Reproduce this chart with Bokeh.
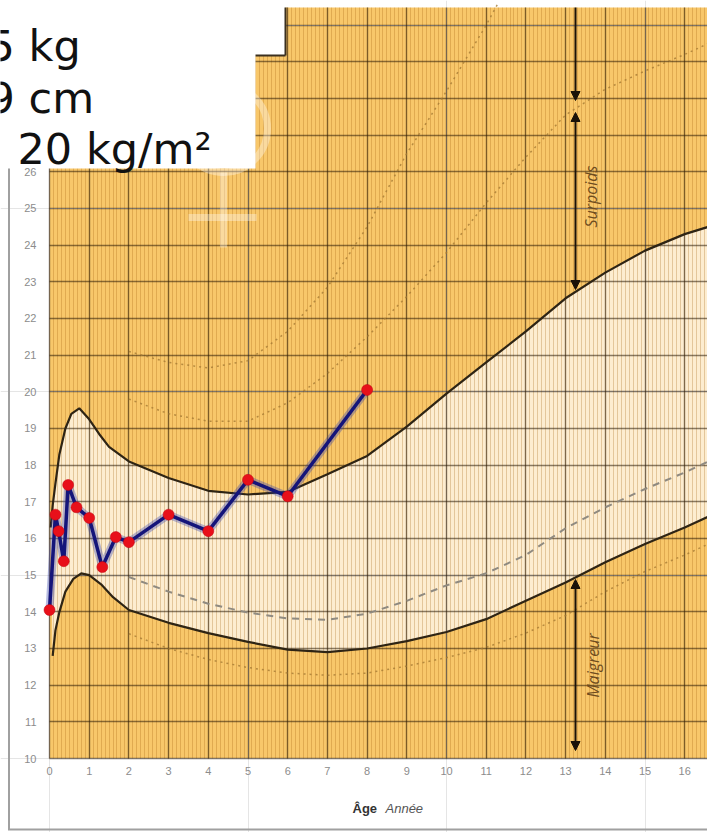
import numpy as np
from bokeh.plotting import figure
from bokeh.models import Range1d, LinearAxis, FixedTicker, SingleIntervalTicker, Grid, Arrow, NormalHead
from bokeh.core.properties import value
from bokeh.embed import file_html
from bokeh.resources import INLINE

# ---------------- data ----------------
AGE = [0, 0.15, 0.23, 0.36, 0.47, 0.68, 1.0, 1.33, 1.67, 2.0, 3.0, 4.0, 5.0, 6.0, 8.0]
BMI = [14.05, 16.65, 16.2, 15.38, 17.46, 16.85, 16.56, 15.22, 16.04, 15.9, 16.65, 16.2, 17.6, 17.15, 20.05]

UPPER_X = [0.03, 0.08, 0.15, 0.25, 0.4, 0.55, 0.75, 1.0, 1.25, 1.5, 2, 3, 4, 5, 6, 7, 8, 9, 10, 11, 12, 13, 14, 15, 16, 16.6]
UPPER_Y = [16.3, 16.9, 17.5, 18.3, 19.0, 19.4, 19.55, 19.25, 18.85, 18.5, 18.1, 17.65, 17.3, 17.2, 17.27, 17.75, 18.25, 19.05, 19.95, 20.8, 21.65, 22.55, 23.25, 23.85, 24.3, 24.5]

LOWER_X = [0.08, 0.15, 0.25, 0.4, 0.6, 0.8, 1.0, 1.3, 1.6, 2, 3, 4, 5, 6, 7, 8, 9, 10, 11, 12, 13, 14, 15, 16, 16.6]
LOWER_Y = [12.8, 13.5, 14.0, 14.55, 14.9, 15.05, 15.0, 14.75, 14.4, 14.05, 13.7, 13.42, 13.18, 12.97, 12.9, 13.0, 13.2, 13.45, 13.8, 14.3, 14.8, 15.35, 15.85, 16.3, 16.6]

MID_X = [2, 3, 4, 5, 6, 7, 8, 9, 10, 11, 12, 13, 14, 15, 16, 16.6]
MID_Y = [14.95, 14.55, 14.22, 13.98, 13.82, 13.78, 13.95, 14.3, 14.72, 15.05, 15.55, 16.28, 16.85, 17.35, 17.8, 18.1]

LOWDOT_X = [2, 3, 4, 5, 6, 7, 8, 9, 10, 11, 12, 13, 14, 15, 16, 16.6]
LOWDOT_Y = [13.4, 13.0, 12.7, 12.48, 12.33, 12.27, 12.33, 12.52, 12.75, 13.03, 13.42, 13.9, 14.55, 15.1, 15.55, 15.85]

DOT_A_X = [2, 3, 4, 5, 6, 7, 8, 9, 10, 11, 12, 13, 14, 15, 16, 16.6]
DOT_A_Y = [19.8, 19.4, 19.2, 19.2, 19.7, 20.5, 21.5, 22.6, 23.8, 25.15, 26.4, 27.55, 28.25, 28.75, 29.2, 29.5]

DOT_B_X = [2, 3, 4, 5, 6, 7, 8, 9, 10, 11, 11.3]
DOT_B_Y = [21.1, 20.8, 20.65, 20.85, 21.65, 22.85, 24.5, 26.5, 28.2, 30.0, 30.6]

X_TICKS = list(range(0, 17))
Y_TICKS = list(range(10, 27))

INFO_LINES = ["5 kg", "9 cm", "20 kg/m\u00b2"]

# ---------------- geometry helpers (picture pixels -> data) ----------------
def fx(px):
    return (px - 49) / 39.7

def fy(py):
    return 10 + (758 - py) / 36.67

W, H = 707, 832
X_START, X_END = fx(0), fx(W)
Y_START, Y_END = fy(H), fy(0)
CHART_TOP = fy(7)

ORANGE = "#F8C76A"
CREAM = "#FDEDD0"
DARK = "#2e2414"

p = figure(width=W, height=H,
           x_range=Range1d(X_START, X_END), y_range=Range1d(Y_START, Y_END),
           output_backend="svg", toolbar_location=None,
           x_axis_location=None, y_axis_location=None,
           outline_line_color=None, background_fill_color="white",
           border_fill_color="white")
p.min_border_left = 0
p.min_border_right = 0
p.min_border_top = 0
p.min_border_bottom = 0

# background regions
p.quad(left=0, right=X_END + 1, bottom=10, top=CHART_TOP,
       fill_color=ORANGE, line_color=None, level="image")
p.patch(UPPER_X + LOWER_X[::-1], UPPER_Y + LOWER_Y[::-1],
        fill_color=CREAM, line_color=None, level="image")

# grids
MAJ_COLOR, MAJ_ALPHA, MAJ_W = "#2a1a05", 0.55, 1.4
MIN_COLOR, MIN_ALPHA, MIN_W = "#a06010", 0.28, 1.0
xg = Grid(dimension=0, ticker=SingleIntervalTicker(interval=1, num_minor_ticks=10),
          bounds=(0, X_END),
          grid_line_color=MAJ_COLOR, grid_line_alpha=MAJ_ALPHA, grid_line_width=MAJ_W,
          minor_grid_line_color=MIN_COLOR, minor_grid_line_alpha=MIN_ALPHA,
          minor_grid_line_width=MIN_W)
yg = Grid(dimension=1, ticker=SingleIntervalTicker(interval=1),
          bounds=(10, CHART_TOP),
          grid_line_color=MAJ_COLOR, grid_line_alpha=MAJ_ALPHA, grid_line_width=MAJ_W)
try:
    xg.cross_bounds = (10, CHART_TOP)
    yg.cross_bounds = (0, X_END + 1)
    p.add_layout(xg)
    p.add_layout(yg)
except AttributeError:
    maj = np.arange(0, 17)
    mino = np.array([v for v in np.arange(0, X_END, 0.1) if abs(v - round(v)) > 1e-6])
    p.segment(x0=mino, y0=10, x1=mino, y1=CHART_TOP, line_color=MIN_COLOR,
              line_alpha=MIN_ALPHA, line_width=MIN_W, level="underlay")
    p.segment(x0=maj, y0=10, x1=maj, y1=CHART_TOP, line_color=MAJ_COLOR,
              line_alpha=MAJ_ALPHA, line_width=MAJ_W, level="underlay")
    hy = np.arange(10, 31)
    p.segment(x0=0, y0=hy, x1=X_END + 1, y1=hy, line_color=MAJ_COLOR,
              line_alpha=MAJ_ALPHA, line_width=MAJ_W, level="underlay")

# reference curves
p.line(DOT_A_X, DOT_A_Y, line_color="#a57a35", line_width=1.5, line_dash="2 4", line_alpha=0.8)
p.line(DOT_B_X, DOT_B_Y, line_color="#a57a35", line_width=1.5, line_dash="2 4", line_alpha=0.8)
p.line(LOWDOT_X, LOWDOT_Y, line_color="#a57a35", line_width=1.5, line_dash="2 4", line_alpha=0.8)
p.line(MID_X, MID_Y, line_color="#8f8a80", line_width=2, line_dash="7 6")
p.line(UPPER_X, UPPER_Y, line_color=DARK, line_width=2.2)
p.line(LOWER_X, LOWER_Y, line_color=DARK, line_width=2.2)

# faint female symbol
FEM_X, FEM_Y = fx(223), fy(128)
p.scatter([FEM_X], [FEM_Y], marker="circle", size=88, fill_alpha=0,
          line_color="white", line_alpha=0.35, line_width=7)
p.segment(x0=[FEM_X, fx(188)], y0=[fy(172), fy(217)], x1=[FEM_X, fx(256)], y1=[fy(247), fy(217)],
          line_color="white", line_alpha=0.35, line_width=7)

# header box of the original sheet
p.quad(left=X_START - 1, right=fx(285), bottom=fy(55), top=Y_END + 1,
       fill_color="white", line_color=None)
p.segment(x0=[fx(285), fx(250)], y0=[fy(55), fy(55)], x1=[fx(285), fx(285)], y1=[CHART_TOP, fy(55)],
          line_color="#3b3020", line_width=2)

# white overlay with the info text
p.quad(left=X_START - 1, right=fx(255), bottom=fy(168), top=Y_END + 1,
       fill_color="white", line_color=None)
p.text(x=[fx(-13), fx(-13), fx(17)], y=[fy(45), fy(97), fy(148)], text=INFO_LINES,
       text_font=value("DejaVu Sans"), text_font_size="43px", text_color="#111111",
       text_align="left", text_baseline="alphabetic")

# page frame lines
p.segment(x0=[fx(8.5), fx(7.5)], y0=[fy(168), fy(829)],
          x1=[fx(8.5), X_END + 1], y1=[fy(829), fy(829)],
          line_color="#a0a0a0", line_width=2)

# arrows
ARROW_X = fx(575)
HEAD = dict(size=9, fill_color="#1a1208", line_color="#1a1208")
p.add_layout(Arrow(x_start=ARROW_X, y_start=CHART_TOP, x_end=ARROW_X, y_end=fy(100),
                   start=None, end=NormalHead(**HEAD), line_color="#1a1208", line_width=2))
p.add_layout(Arrow(x_start=ARROW_X, y_start=fy(112), x_end=ARROW_X, y_end=fy(289),
                   start=NormalHead(**HEAD), end=NormalHead(**HEAD), line_color="#1a1208", line_width=2))
p.add_layout(Arrow(x_start=ARROW_X, y_start=fy(579), x_end=ARROW_X, y_end=fy(750),
                   start=NormalHead(**HEAD), end=NormalHead(**HEAD), line_color="#1a1208", line_width=2))
p.text(x=[fx(590), fx(592)], y=[fy(196), fy(665)], text=["Surpoids", "Maigreur"], angle=np.pi / 2,
       text_font=value("Open Sans"), text_font_style="italic", text_font_size="16px",
       text_color="#6e4c1e", text_align="center", text_baseline="middle")

# axis title texts
p.text(x=[fx(352)], y=[fy(808)], text=["\u00c2ge"], text_font=value("Liberation Sans"),
       text_font_style="bold", text_font_size="13px", text_color="#333333",
       text_align="left", text_baseline="middle")
p.text(x=[fx(385)], y=[fy(808)], text=["Ann\u00e9e"], text_font=value("Liberation Sans"),
       text_font_style="italic", text_font_size="13px", text_color="#555555",
       text_align="left", text_baseline="middle")

# patient data
p.line(AGE, BMI, line_color="#3040b0", line_width=8, line_alpha=0.35)
p.line(AGE, BMI, line_color="#15157a", line_width=3.5)
p.scatter(AGE, BMI, marker="circle", size=11, fill_color="#e8101a", line_color="#c00010", line_width=0.5)

# axes
AX_STYLE = dict(axis_line_color=None, major_tick_line_color=None, minor_tick_line_color=None,
                major_label_text_font="Liberation Sans", major_label_text_font_size="11px",
                major_label_text_color="#8c8c8c")
xaxis = LinearAxis(fixed_location=10, ticker=FixedTicker(ticks=X_TICKS),
                   major_label_standoff=2, **AX_STYLE)
yaxis = LinearAxis(fixed_location=0, ticker=FixedTicker(ticks=Y_TICKS),
                   major_label_standoff=7, **AX_STYLE)
p.add_layout(xaxis, "below")
p.add_layout(yaxis, "left")

open("out.html", "w").write(file_html(p, INLINE))
